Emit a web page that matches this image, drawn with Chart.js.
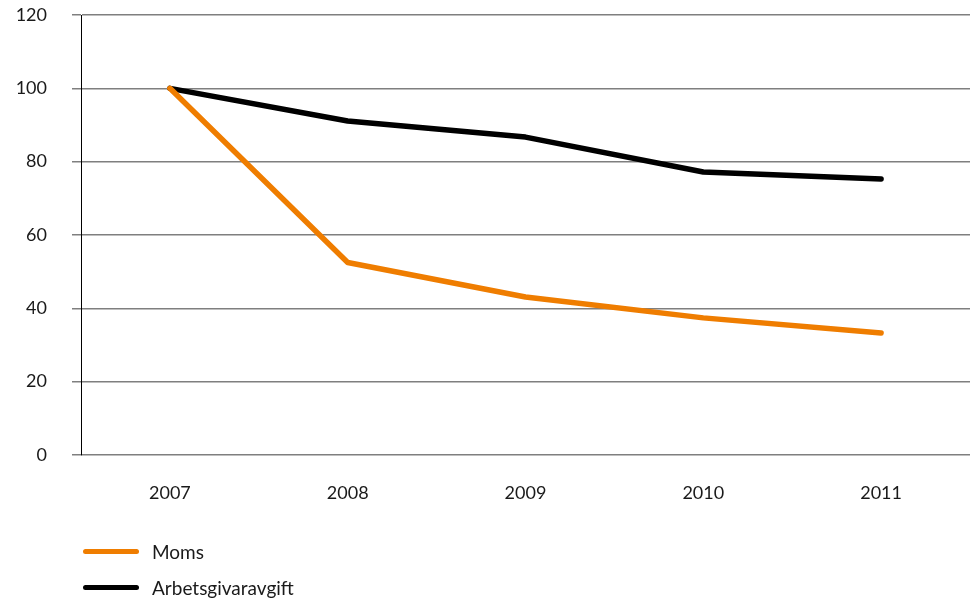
<!DOCTYPE html>
<html>
<head>
<meta charset="utf-8">
<script src="https://cdn.jsdelivr.net/npm/chart.js@4/dist/chart.umd.min.js"></script>
<style>
  html, body { margin: 0; padding: 0; background: #fff; }
  #wrap { position: relative; width: 970px; height: 606px; }
  #legend { position: absolute; left: 83px; top: 533px; font-family: "Lato", sans-serif; font-size: 19px; color: #1a1a1a; }
  .item { display: flex; align-items: center; height: 36px; }
  .swatch { width: 56px; height: 5px; border-radius: 3px; margin-right: 13px; }
</style>
</head>
<body>
<div id="wrap">
  <canvas id="c" width="970" height="606"></canvas>
  <div id="legend"></div>
</div>
<script>
// =========================
// DATA
// =========================
const years = ["2007", "2008", "2009", "2010", "2011"];
const moms = [100, 52.5, 43.1, 37.4, 33.3];
const arbetsgivaravgift = [100, 91.1, 86.7, 77.2, 75.3];
const yTicks = [0, 20, 40, 60, 80, 100, 120];

const seriesNames = ["Moms", "Arbetsgivaravgift"];
const seriesColors = ["#ef7d00", "#000000"];

// =========================
// CHART
// =========================
const ctx = document.getElementById("c").getContext("2d");

const chart = new Chart(ctx, {
    type: "line",
    data: {
        labels: years,
        datasets: [moms, arbetsgivaravgift].map((values, i) => ({
            label: seriesNames[i],
            data: values,
            borderColor: seriesColors[i],
            backgroundColor: seriesColors[i],
            borderWidth: 5.5,
            borderCapStyle: "round",
            borderJoinStyle: "round",
            pointRadius: 0,
            tension: 0
        }))
    },
    options: {
        responsive: false,
        animation: false,
        layout: { padding: { top: 15, right: 0, bottom: 0, left: 0 } },
        plugins: {
            legend: { display: false },
            tooltip: { enabled: false }
        },
        scales: {
            x: {
                offset: true,
                grid: { display: false, drawTicks: false },
                border: { display: false },
                ticks: {
                    color: "#1a1a1a",
                    padding: 27,
                    font: { family: "Lato", size: 18 }
                },
                afterFit: s => { s.height = 151; s.paddingLeft = 0; s.paddingRight = 0; }
            },
            y: {
                min: 0,
                max: 120,
                afterBuildTicks: s => { s.ticks = yTicks.map(v => ({ value: v })); },
                grid: { color: "#7f7f7f", lineWidth: 1.5, tickLength: 9 },
                border: { color: "#000", width: 1 },
                ticks: {
                    color: "#1a1a1a",
                    padding: 25,
                    font: { family: "Lato", size: 18 }
                },
                afterFit: s => { s.width = 81; s.paddingTop = 0; s.paddingBottom = 0; }
            }
        }
    }
});

// =========================
// LEGEND
// =========================
const legend = document.getElementById("legend");
chart.data.datasets.forEach(ds => {
    const row = document.createElement("div");
    row.className = "item";
    const sw = document.createElement("span");
    sw.className = "swatch";
    sw.style.background = ds.borderColor;
    const txt = document.createElement("span");
    txt.innerText = ds.label;
    row.appendChild(sw);
    row.appendChild(txt);
    legend.appendChild(row);
});
</script>
</body>
</html>
